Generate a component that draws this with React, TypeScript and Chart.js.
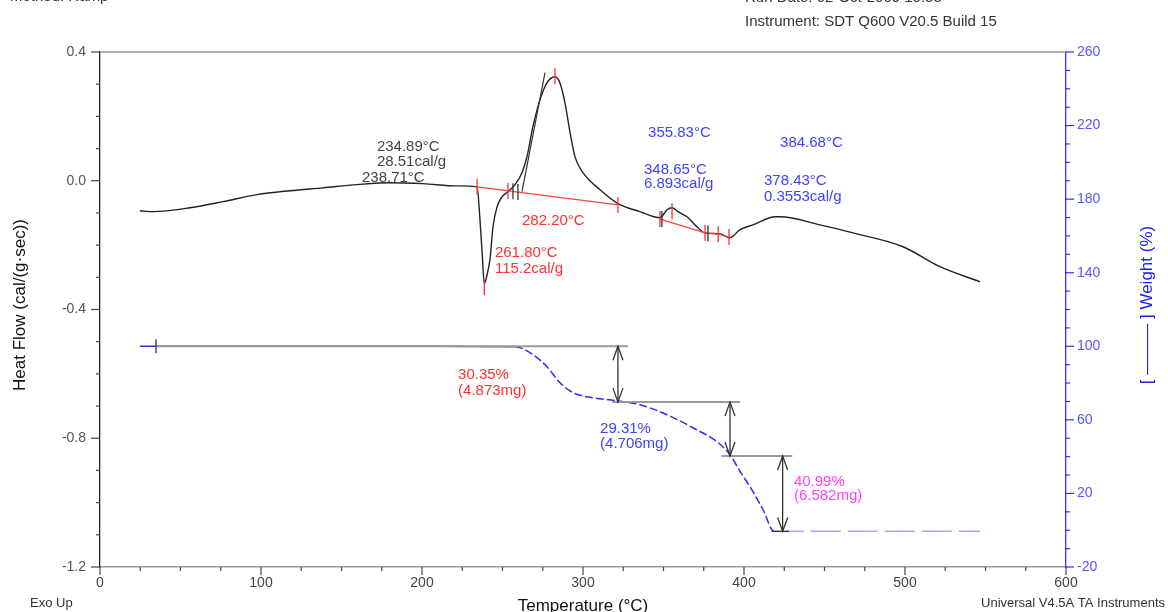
import React, { useEffect, useRef } from 'react';
import { Chart, registerables } from 'chart.js';
Chart.register(...registerables);

const FONT = '"Liberation Sans", Arial, sans-serif';

// DSC heat flow curve (°C, cal/(g·sec))
const dscTemp = [24.8, 33, 56, 76.4, 97.5, 118, 138.5, 159.6, 180, 200.6, 221.7, 234.2, 236.0, 237.3, 238.7, 240.4, 242.2, 244.1, 246.6, 249.7, 253.4, 257.8, 262.1, 265.2, 268.9, 273.3, 277.6, 282.6, 285.7, 288.8, 292, 295, 300, 310.6, 321.7, 335.4, 347.8, 352.2, 355.3, 359, 364.6, 370.8, 375.8, 385.1, 391.3, 397.5, 405.6, 419.3, 422.4, 447.2, 467.7, 498.8, 521.7, 546.6];
const dscFlow = [-0.093, -0.096, -0.084, -0.065, -0.043, -0.031, -0.022, -0.012, -0.006, -0.009, -0.016, -0.019, -0.12, -0.22, -0.32, -0.292, -0.245, -0.143, -0.081, -0.050, -0.034, -0.012, 0.025, 0.075, 0.168, 0.252, 0.304, 0.323, 0.304, 0.242, 0.149, 0.075, 0.025, -0.028, -0.071, -0.096, -0.115, -0.090, -0.084, -0.096, -0.112, -0.143, -0.162, -0.165, -0.177, -0.152, -0.137, -0.112, -0.112, -0.137, -0.162, -0.205, -0.267, -0.314];

// TGA weight curve (°C, %)
const weightTemp = [24.8, 100, 200, 257.8, 269, 277.6, 285.7, 293.8, 306.2, 321.1, 335.4, 352.2, 368.3, 383.2, 391.3, 398, 403.7, 411.8, 418.5, 428, 546.6];
const weightPct = [100, 100, 100, 99.8, 95.4, 88.9, 80.2, 74.8, 72.0, 70.4, 68.2, 62.8, 55.7, 48.1, 41.1, 31.3, 23.7, 11.2, -0.4, -0.6, -0.6];
const weightTailStart = 418.5;

// integration baselines on DSC curve
const baseline1 = [[234.2, -0.019], [321.7, -0.075]];
const baseline2 = [[347.8, -0.119], [375.8, -0.162], [384.0, -0.166], [390.7, -0.175]];
const onsetTangent = [[262.1, -0.034], [276.4, 0.336]];
// marker ticks: temp, flow, color
const dscMarkers: [number, number, string][] = [
  [234.2, -0.019, '#ff3030'], [238.7, -0.33, '#ff3030'], [253.4, -0.031, '#ff3030'],
  [256.5, -0.033, '#333333'], [259.6, -0.035, '#333333'], [282.6, 0.325, '#ff3030'],
  [321.7, -0.075, '#ff3030'], [347.8, -0.119, '#ff3030'], [349.0, -0.119, '#333333'],
  [355.3, -0.095, '#ff3030'], [375.8, -0.162, '#ff3030'], [377.6, -0.163, '#333333'],
  [384.0, -0.166, '#ff3030'], [390.7, -0.175, '#ff3030'],
];

// weight step analysis
const stepLevels = [100, 69.65, 40.34, -0.65];
const stepSpans = [[34.2, 327.9], [318, 397.5], [386, 430], [417, 428]];
const arrowTemps = [321.7, 391.3, 424];
const startMarkTemp = 34.8;

// annotation texts: text, temp, value, axis, color
const labels: [string, number, number, string, string][] = [
  ['234.89°C', 172.0, 0.106, 'y', '#444444'],
  ['28.51cal/g', 172.0, 0.058, 'y', '#444444'],
  ['238.71°C', 162.7, 0.009, 'y', '#444444'],
  ['261.80°C', 245.3, -0.224, 'y', '#ff3030'],
  ['115.2cal/g', 245.3, -0.273, 'y', '#ff3030'],
  ['282.20°C', 262.1, -0.124, 'y', '#ff3030'],
  ['355.83°C', 340.4, 0.149, 'y', '#4040ff'],
  ['348.65°C', 337.9, 0.034, 'y', '#4040ff'],
  ['6.893cal/g', 337.9, -0.011, 'y', '#4040ff'],
  ['384.68°C', 422.4, 0.118, 'y', '#4040ff'],
  ['378.43°C', 412.4, 0.0, 'y', '#4040ff'],
  ['0.3553cal/g', 412.4, -0.050, 'y', '#4040ff'],
  ['30.35%', 222.4, 84.5, 'y1', '#ff3030'],
  ['(4.873mg)', 222.4, 76.0, 'y1', '#ff3030'],
  ['29.31%', 310.6, 55.2, 'y1', '#4040ff'],
  ['(4.706mg)', 310.6, 47.0, 'y1', '#4040ff'],
  ['40.99%', 431, 26.4, 'y1', '#ff40ff'],
  ['(6.582mg)', 431, 18.8, 'y1', '#ff40ff'],
];

const xMajor = 100, xMinor = 25;
const yMajor = 0.4, yMinor = 0.1;
const y1Major = 40, y1Minor = 10;

const overlay = {
  id: 'overlay',
  afterDraw(chart: any) {
    const { ctx, chartArea: ca, scales } = chart;
    const sx = scales.x, sy = scales.y, sy1 = scales.y1;
    const X = (t: number) => sx.getPixelForValue(t);
    const Y = (v: number) => sy.getPixelForValue(v);
    const Y1 = (v: number) => sy1.getPixelForValue(v);
    ctx.save();

    // top frame line
    ctx.strokeStyle = '#9a9a9a';
    ctx.lineWidth = 1.5;
    ctx.beginPath(); ctx.moveTo(ca.left, ca.top); ctx.lineTo(ca.right, ca.top); ctx.stroke();

    // axis ticks
    ctx.lineWidth = 1.2;
    ctx.strokeStyle = '#444';
    for (let t = 0; t <= 600 + 1e-6; t += xMinor) {
      const major = Math.abs(t % xMajor) < 1e-6;
      const px = X(t);
      ctx.beginPath(); ctx.moveTo(px, ca.bottom); ctx.lineTo(px, ca.bottom + (major ? 8 : 4)); ctx.stroke();
    }
    for (let i = 0; i <= 16; i++) {
      const v = -1.2 + i * yMinor;
      const major = Math.round(v * 10) % 4 === 0;
      const py = Y(v);
      ctx.beginPath(); ctx.moveTo(ca.left, py); ctx.lineTo(ca.left - (major ? 9 : 4), py); ctx.stroke();
    }
    ctx.strokeStyle = '#3030ff';
    for (let v = -20; v <= 260; v += y1Minor) {
      const major = (v + 20) % y1Major === 0;
      const py = Y1(v);
      ctx.beginPath(); ctx.moveTo(ca.right, py); ctx.lineTo(ca.right + (major ? 8 : 4), py); ctx.stroke();
    }

    // clip for plot annotations
    ctx.save();
    ctx.beginPath(); ctx.rect(ca.left, ca.top, ca.right - ca.left, ca.bottom - ca.top); ctx.clip();

    // DSC baselines
    ctx.strokeStyle = '#ff4040';
    ctx.lineWidth = 1.2;
    for (const bl of [baseline1, baseline2]) {
      ctx.beginPath();
      bl.forEach(([t, v], i) => (i ? ctx.lineTo(X(t), Y(v)) : ctx.moveTo(X(t), Y(v))));
      ctx.stroke();
    }
    ctx.strokeStyle = '#333';
    ctx.beginPath();
    ctx.moveTo(X(onsetTangent[0][0]), Y(onsetTangent[0][1]));
    ctx.lineTo(X(onsetTangent[1][0]), Y(onsetTangent[1][1]));
    ctx.stroke();
    for (const [t, v, c] of dscMarkers) {
      ctx.strokeStyle = c;
      ctx.lineWidth = 1.3;
      const px = X(t), py = Y(v);
      ctx.beginPath(); ctx.moveTo(px, py - 8); ctx.lineTo(px, py + 8); ctx.stroke();
    }

    // weight step lines
    stepLevels.forEach((lv, i) => {
      const [a, b] = stepSpans[i];
      ctx.strokeStyle = i === stepLevels.length - 1 ? '#333' : '#9a9a9a';
      ctx.lineWidth = i === stepLevels.length - 1 ? 1.3 : 2;
      ctx.beginPath(); ctx.moveTo(X(a), Y1(lv)); ctx.lineTo(X(b), Y1(lv)); ctx.stroke();
    });
    ctx.strokeStyle = '#333';
    ctx.lineWidth = 1.3;
    ctx.beginPath(); ctx.moveTo(X(startMarkTemp), Y1(100) - 7); ctx.lineTo(X(startMarkTemp), Y1(100) + 7); ctx.stroke();
    arrowTemps.forEach((t, i) => {
      const px = X(t), ya = Y1(stepLevels[i]), yb = Y1(stepLevels[i + 1]);
      ctx.strokeStyle = '#333';
      ctx.lineWidth = 1.3;
      ctx.beginPath(); ctx.moveTo(px, ya); ctx.lineTo(px, yb); ctx.stroke();
      ctx.beginPath();
      ctx.moveTo(px - 5, ya + 14); ctx.lineTo(px, ya); ctx.lineTo(px + 5, ya + 14);
      ctx.moveTo(px - 5, yb - 14); ctx.lineTo(px, yb); ctx.lineTo(px + 5, yb - 14);
      ctx.stroke();
    });
    ctx.restore();

    // annotation texts
    ctx.font = `15px ${FONT}`;
    ctx.textBaseline = 'middle';
    ctx.textAlign = 'left';
    for (const [txt, t, v, ax, c] of labels) {
      ctx.fillStyle = c;
      ctx.fillText(txt, X(t), ax === 'y' ? Y(v) : Y1(v));
    }

    // axis titles
    ctx.fillStyle = '#111';
    ctx.font = `17px ${FONT}`;
    ctx.textAlign = 'center';
    ctx.fillText('Temperature (°C)', (ca.left + ca.right) / 2, 606);
    ctx.save();
    ctx.translate(20, 305); ctx.rotate(-Math.PI / 2);
    ctx.fillText('Heat Flow (cal/(g·sec))', 0, 0);
    ctx.restore();
    ctx.save();
    ctx.fillStyle = '#2020ff';
    ctx.translate(1147, 305); ctx.rotate(-Math.PI / 2);
    ctx.fillText('[ ——— ] Weight (%)', 0, 0);
    ctx.restore();

    // header and footer
    ctx.fillStyle = '#333';
    ctx.font = `15px ${FONT}`;
    ctx.textAlign = 'left';
    ctx.fillText('Method: Ramp', 10, -3);
    ctx.fillText('Run Date: 02-Oct-2009 10:53', 745, -2);
    ctx.fillText('Instrument: SDT Q600 V20.5 Build 15', 745, 22);
    ctx.font = `13px ${FONT}`;
    ctx.fillText('Exo Up', 30, 603);
    ctx.textAlign = 'right';
    ctx.fillText('Universal V4.5A TA Instruments', 1165, 603);
    ctx.restore();
  },
};

export default function App() {
  const ref = useRef<HTMLCanvasElement>(null);
  useEffect(() => {
    document.body.style.margin = '0';
    Chart.defaults.font.family = FONT;
    const chart = new Chart(ref.current as HTMLCanvasElement, {
      type: 'line',
      data: {
        datasets: [
          {
            label: 'Heat Flow',
            data: dscTemp.map((t, i) => ({ x: t, y: dscFlow[i] })),
            yAxisID: 'y',
            borderColor: '#222',
            borderWidth: 1.4,
            pointRadius: 0,
            cubicInterpolationMode: 'monotone',
          },
          {
            label: 'Weight',
            data: weightTemp.map((t, i) => ({ x: t, y: weightPct[i] })),
            yAxisID: 'y1',
            borderColor: '#2b2bff',
            borderWidth: 1.5,
            pointRadius: 0,
            cubicInterpolationMode: 'monotone',
            segment: {
              borderColor: (c: any) => (c.p0.parsed.x >= weightTailStart ? '#a8a8ff' : '#2b2bff'),
              borderDash: (c: any) => (c.p0.parsed.x >= weightTailStart ? [30, 7] : c.p0.parsed.x >= 250 ? [8, 3] : []),
            },
          },
        ] as any,
      },
      options: {
        responsive: false,
        animation: false,
        layout: { padding: { top: 52, left: 0, right: 0, bottom: 0 } },
        plugins: { legend: { display: false }, tooltip: { enabled: false }, title: { display: false } },
        scales: {
          x: {
            type: 'linear', min: 0, max: 600, position: 'bottom',
            grid: { display: false, drawTicks: true, tickLength: 6 },
            border: { display: true, color: '#9a9a9a', width: 1.5 },
            ticks: {
              stepSize: xMinor, autoSkip: false, maxRotation: 0, padding: 2, color: '#444',
              font: { size: 14 },
              callback: (v: any) => (Math.abs(v % xMajor) < 1e-6 ? String(v) : ''),
            },
            afterFit: (s: any) => { s.height = 45; },
          },
          y: {
            type: 'linear', min: -1.2, max: 0.4, position: 'left',
            grid: { display: false, drawTicks: true, tickLength: 9 },
            border: { display: true, color: '#222', width: 1.3 },
            ticks: {
              stepSize: yMinor, autoSkip: false, padding: 5, color: '#555',
              font: { size: 14 },
              callback: (v: any) => {
                const r = Math.round(v * 10);
                return r % 4 === 0 ? (r / 10).toFixed(1) : '';
              },
            },
            afterFit: (s: any) => { s.width = 100; },
          },
          y1: {
            type: 'linear', min: -20, max: 260, position: 'right',
            grid: { display: false, drawTicks: true, tickLength: 8 },
            border: { display: true, color: '#3030ff', width: 1.3 },
            ticks: {
              stepSize: y1Minor, autoSkip: false, padding: 3, color: '#5555ff',
              font: { size: 14 },
              callback: (v: any) => ((v + 20) % y1Major === 0 ? String(v) : ''),
            },
            afterFit: (s: any) => { s.width = 102; },
          },
        },
      } as any,
      plugins: [overlay],
    });
    return () => chart.destroy();
  }, []);
  return (
    <div style={{ position: 'absolute', left: 0, top: 0, width: 1168, height: 612, background: '#fff' }}>
      <canvas ref={ref} width={1168} height={612} style={{ display: 'block' }} />
    </div>
  );
}
